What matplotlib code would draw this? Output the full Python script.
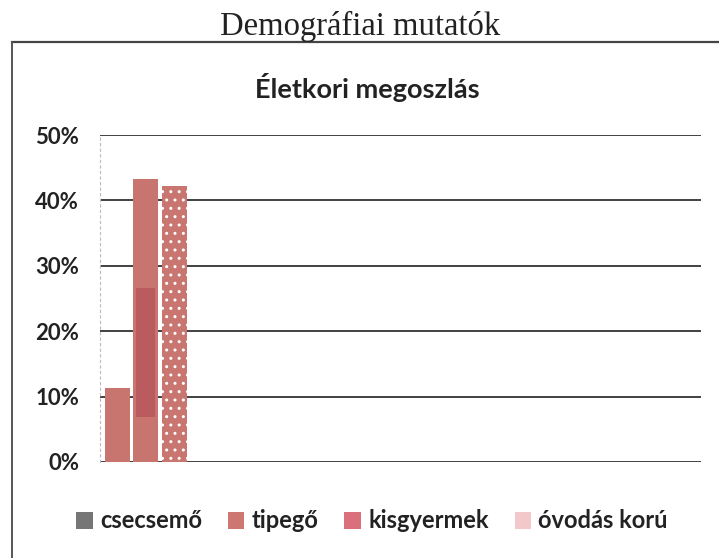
import matplotlib
matplotlib.use("Agg")
import matplotlib.pyplot as plt
from matplotlib.patches import Patch
from matplotlib.lines import Line2D
from matplotlib.ticker import FuncFormatter

# ---- data ----
series = ["csecsemő", "tipegő", "kisgyermek", "óvodás korú"]
values = [0.0, 11.3, 43.3, 42.2]          # percent
band_low, band_high = 6.9, 26.6           # darker inner band seen in the kisgyermek bar
y_ticks = [0, 10, 20, 30, 40, 50]

bar_colors = ["#7a7a7a", "#c9756f", "#c9756f", "#c97670"]
legend_colors = ["#767676", "#cc7770", "#d9707c", "#f4c7c9"]

W, H = 719, 558
fig = plt.figure(figsize=(W / 100, H / 100), dpi=100)

def fx(px):
    return px / W

def fy(py):
    return 1 - py / H

ax = fig.add_axes([fx(100), fy(462), fx(701) - fx(100), fy(135) - fy(462)])

xs = list(range(len(series)))
for i, (x, v) in enumerate(zip(xs, values)):
    if i == 3:
        ax.bar(x, v, width=0.88, color=bar_colors[i], edgecolor="white",
               linewidth=0, hatch="..", zorder=3)
    else:
        ax.bar(x, v, width=0.88, color=bar_colors[i], linewidth=0, zorder=3)

# darker inner band in the kisgyermek bar
ax.bar(xs[2], band_high - band_low, bottom=band_low, width=0.66,
       color="#b95a5e", linewidth=0, zorder=4, alpha=0.9)

ax.set_xlim(0.4, 21.4)
ax.set_ylim(0, 50)
ax.set_yticks(y_ticks)
ax.yaxis.set_major_formatter(FuncFormatter(lambda v, p: f"{int(v)}%"))
ax.set_xticks([])
ax.tick_params(axis="y", length=0, pad=15, labelsize=16, labelcolor="#222222")
for lab in ax.get_yticklabels():
    lab.set_fontfamily("Lato")
    lab.set_fontweight("bold")

for t in y_ticks:
    ax.axhline(t, color="#333333", lw=1.3, zorder=1)

for s in ["top", "right", "bottom"]:
    ax.spines[s].set_visible(False)
ax.spines["left"].set_color("#bbbbbb")
ax.spines["left"].set_linestyle((0, (2, 3)))
ax.spines["left"].set_linewidth(0.8)

# titles
fig.text(fx(360), fy(26), "Demográfiai mutatók", ha="center", va="center",
         fontsize=23.5, family="Liberation Serif", color="#222222")
fig.text(fx(367), fy(88), "Életkori megoszlás", ha="center", va="center",
         fontsize=19.5, family="Lato", fontweight="bold", color="#222222")

# frame lines (top and left)
fig.add_artist(Line2D([fx(12), 1], [fy(42), fy(42)], color="#444444", lw=1.6,
                      transform=fig.transFigure))
fig.add_artist(Line2D([fx(12), fx(12)], [fy(42), 0], color="#555555", lw=1.4,
                      transform=fig.transFigure))

# legend
handles = [Patch(facecolor=c, edgecolor="none") for c in legend_colors]
leg = fig.legend(handles, series, loc="center", bbox_to_anchor=(fx(372), fy(521)),
                 ncol=4, frameon=False, handlelength=0.7, handleheight=0.7,
                 handletextpad=0.3, columnspacing=1.1,
                 prop={"family": "Lato", "size": 17, "weight": "bold"})
for t in leg.get_texts():
    t.set_color("#222222")

fig.savefig("out.png", dpi=100)
